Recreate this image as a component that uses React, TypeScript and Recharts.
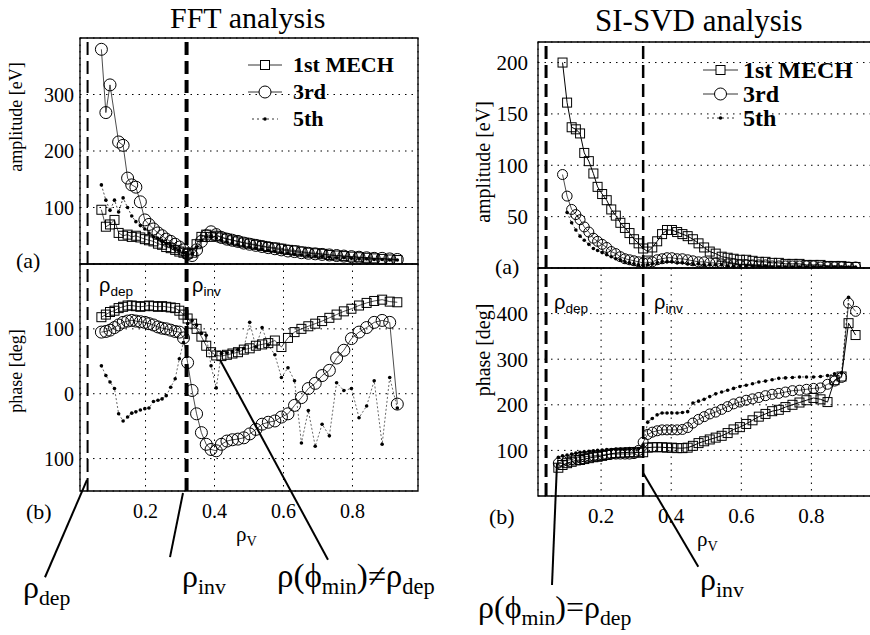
import React from 'react';
import { ScatterChart, Scatter, XAxis, YAxis, CartesianGrid, ReferenceLine, ReferenceArea } from 'recharts';

// radial channel positions (rho_V)
const rhoFFT = [0.072, 0.085, 0.097, 0.11, 0.122, 0.135, 0.148, 0.16, 0.172, 0.185, 0.198, 0.21, 0.223, 0.236, 0.248, 0.26, 0.273, 0.286, 0.298, 0.31, 0.322, 0.335, 0.348, 0.362, 0.376, 0.39, 0.405, 0.42, 0.436, 0.452, 0.468, 0.485, 0.502, 0.52, 0.538, 0.556, 0.575, 0.594, 0.613, 0.632, 0.652, 0.672, 0.692, 0.712, 0.733, 0.754, 0.775, 0.797, 0.819, 0.841, 0.863, 0.886, 0.908, 0.93];
const rhoSVD = [0.078, 0.09, 0.103, 0.116, 0.128, 0.14, 0.152, 0.165, 0.178, 0.19, 0.203, 0.216, 0.229, 0.242, 0.255, 0.268, 0.281, 0.294, 0.307, 0.32, 0.333, 0.346, 0.36, 0.374, 0.388, 0.402, 0.417, 0.432, 0.447, 0.462, 0.478, 0.494, 0.51, 0.527, 0.544, 0.561, 0.578, 0.596, 0.614, 0.632, 0.65, 0.669, 0.688, 0.707, 0.726, 0.746, 0.766, 0.786, 0.806, 0.826, 0.846, 0.866, 0.886, 0.906, 0.926];

// FFT amplitude [eV]
const fftAmp1st = [96, 66, 70, 78, 55, 50, 52, 48, 50, 47, 44, 42, 40, 36, 34, 30, 28, 25, 22, 20, 18, 20, 35, 48, 52, 48, 50, 47, 45, 42, 40, 38, 36, 34, 32, 30, 29, 27, 25, 24, 22, 20, 19, 18, 16, 15, 14, 13, 12, 11, 10, 9, 8, 7];
const fftAmp3rd = [380, 268, 317, null, 216, 210, 152, 140, 136, 110, 78, 70, 62, 55, 50, 44, 40, 35, 30, 25, 18, 15, 25, 40, 50, 57, 52, 47, 44, 42, 40, 37, 35, 33, 31, 29, 27, 25, 23, 22, 20, 19, 18, 17, 16, 15, 14, 13, 12, 11, 10, 10, 9, 8];
const fftAmp5th = [140, 113, 95, 113, 92, 117, 100, 85, 75, 68, 62, 55, 48, 45, 40, 36, 32, 28, 24, 20, 15, 18, 30, 42, 48, 50, 46, 42, 39, 37, 34, 32, 30, 28, 26, 24, 22, 20, 19, 17, 16, 15, 14, 13, 12, 11, 11, 10, 9, 9, 8, 8, 7, 7];

// FFT phase [deg]
const fftPh1st = [118, 122, 126, 128, 132, 134, 136, 136, 135, 134, 135, 136, 135, 134, 135, 134, 133, 132, 128, 122, 116, 108, 100, 88, 74, 64, 59, 58, 60, 62, 64, 68, 70, 74, 76, 78, 82, 72, 86, 95, 100, 104, 108, 112, 117, 122, 127, 131, 136, 140, 143, 145, 142, 141];
const fftPh3rd = [95, 96, 98, 102, 106, 110, 112, 113, 112, 111, 110, 108, 106, 103, 101, 100, 98, 96, 95, 86, 48, 5, -31, -60, -78, -86, -88, -78, -73, -71, -70, -68, -62, -55, -47, -44, -42, -36, -31, -18, -6, 8, 16, 28, 36, 55, 67, 85, 95, 102, 110, 113, 110, -16];
const fftPh5th = [43, 28, 18, 8, -31, -42, -36, -30, -28, -25, -23, -22, -12, -10, -8, -3, 10, 23, 54, 79, 108, 113, 106, 93, 90, 43, 9, 62, 63, 65, 68, 70, 110, 72, 102, 75, 60, 25, 40, 20, -76, -26, -81, -47, -65, 17, 5, 8, -37, -19, 20, -78, 25, -22];

// SI-SVD amplitude [eV]
const svdAmp1st = [null, 200, 161, 137, 135, 131, 112, 104, 92, 79, 72, 66, 57, 51, 44, 39, 34, 28, 24, 19, 16, 20, 26, 33, 37, 37, 35, 33, 31, 28, 24, 20, 16, 14, 11, 10, 9, 8, 8, 7, 6, 6, 5, 5, 4, 4, 4, 3, 3, 3, 2, 2, 2, 1, 1];
const svdAmp3rd = [null, 91, 70, 57, 52, 47, 40, 35, 29, 26, 23, 20, 16, 14, 11, 9, 8, 7, 6, 5, 5, 6, 8, 9, 10, 10, 9, 9, 8, 7, 6, 6, 5, 5, 4, 4, 4, 3, 3, 3, 3, 3, 2, 2, 2, 2, 2, 2, 2, 1, 1, 1, 1, 1, 1];
const svdAmp5th = [null, null, 54, 44, 37, 31, 27, 23, 19, 17, 15, 13, 11, 9, 8, 6, 5, 4, 3, 3, 3, 4, 5, 6, 6, 6, 5, 5, 4, 4, 4, 3, 3, 3, 3, 2, 2, 2, 2, 2, 2, 2, 1, 1, 1, 1, 1, 1, 1, 1, 1, 1, 1, 1, 1];

// SI-SVD phase [deg]
const svdPh1st = [62, 68, 72, 75, 78, 79, 81, 83, 85, 86, 88, 90, 93, 94, 95, 95, 96, 96, 95, 96, 106, 107, 107, 107, 106, 106, 105, 105, 106, 110, 116, 120, 124, 128, 132, 138, 146, 151, 158, 166, 174, 180, 186, 189, 195, 200, 205, 210, 215, 212, 206, 254, 262, 379, 353];
const svdPh3rd = [72, 76, 78, 80, 83, 85, 86, 87, 88, 89, 90, 91, 92, 92, 92, 92, 92, 93, 100, 118, 135, 140, 143, 145, 145, 145, 145, 146, 150, 160, 168, 174, 180, 184, 190, 196, 202, 206, 210, 213, 216, 220, 223, 225, 228, 231, 232, 234, 236, 237, 245, 252, 260, 423, 405];
const svdPh5th = [85, 88, 90, 92, 94, 96, 97, 98, 99, 100, 101, 102, 102, 103, 103, 103, 104, 104, 104, 112, 162, 170, 178, 182, 182, 182, 182, 183, 185, 204, 208, 212, 218, 224, 228, 232, 236, 240, 243, 246, 250, 252, 255, 258, 259, 260, 261, 261, 261, 262, 264, 268, 270, 436, null];

const xTicks = [0.2, 0.4, 0.6, 0.8];
const legendLabels = ['1st MECH', '3rd', '5th'];
const fftDep = 0.032;
const fftInv = 0.319;
const svdDep = 0.043;
const svdInv = 0.32;

const serif = 'Liberation Serif, Times New Roman, serif';
const sans = 'Liberation Sans, Arial, sans-serif';
const H = 635;

const toPoints = (rho: number[], vals: (number | null)[]) =>
  rho.map((r, i) => ({ rho: r, v: vals[i] })).filter((d) => d.v !== null && d.v !== undefined);

const square = (size: number) => (p: any) =>
  p.cx == null ? <g /> : <rect x={p.cx - size / 2} y={p.cy - size / 2} width={size} height={size} fill="none" stroke="#000" strokeWidth={1} />;
const ring = (r: number) => (p: any) =>
  p.cx == null ? <g /> : <circle cx={p.cx} cy={p.cy} r={r} fill="none" stroke="#000" strokeWidth={1} />;
const dot = (p: any) => (p.cx == null ? <g /> : <circle cx={p.cx} cy={p.cy} r={1.8} fill="#000" />);

type Pt = { rho: number; v: number };
type SeriesDef = { data: Pt[]; shape: any; dash?: string; lw: number };

function Panel(props: {
  left: number; width: number; margin: any; xDomain: number[]; yDomain: number[]; yTicks: number[];
  yFmt?: (v: number) => string; showX: boolean; xMargin?: number; yMargin: number; tickSize: number;
  series: SeriesDef[]; dashed: { x: number; w: number }[]; leaders?: { x: number; y: number }[][];
}) {
  const { xDomain, yDomain } = props;
  return (
    <div style={{ position: 'absolute', left: props.left, top: 0 }}>
      <ScatterChart width={props.width} height={H} margin={props.margin}>
        <CartesianGrid stroke="#000" strokeDasharray="1.5 5" strokeWidth={1} />
        <XAxis type="number" dataKey="rho" domain={xDomain} ticks={xTicks} allowDataOverflow
          height={props.showX ? 30 : 0} axisLine={false} tickLine={false} tickSize={0} tickMargin={props.xMargin}
          tickFormatter={(v: number) => v.toFixed(1)}
          tick={props.showX ? { fontSize: props.tickSize, fontFamily: serif, fill: '#000' } : false} />
        <YAxis type="number" dataKey="v" domain={yDomain} ticks={props.yTicks} allowDataOverflow width={50}
          axisLine={false} tickLine={false} tickSize={0} tickMargin={props.yMargin} tickFormatter={props.yFmt}
          tick={{ fontSize: props.tickSize, fontFamily: serif, fill: '#000' }} />
        <ReferenceArea x1={xDomain[0]} x2={xDomain[1]} y1={yDomain[0]} y2={yDomain[1]} fill="none" fillOpacity={0} stroke="#000" strokeWidth={1.3} />
        {props.dashed.map((d, i) => (
          <ReferenceLine key={'d' + i} x={d.x} stroke="#000" strokeWidth={d.w} strokeDasharray="13 6" />
        ))}
        {props.series.map((s, i) => (
          <Scatter key={i} data={s.data} fill="#000" shape={s.shape} isAnimationActive={false}
            line={{ stroke: '#000', strokeWidth: s.lw, strokeDasharray: s.dash }} />
        ))}
        {(props.leaders || []).map((seg, i) => (
          <ReferenceLine key={'l' + i} segment={seg} stroke="#000" strokeWidth={2} ifOverflow="visible" />
        ))}
      </ScatterChart>
    </div>
  );
}

function LegendBox({ left, top, rowH, sampleW, gap, fontSize, sq, rr }: any) {
  const icons = [
    (w: number) => <><line x1={0} x2={w} y1={8} y2={8} stroke="#000" strokeWidth={0.8} /><rect x={w / 2 - sq / 2} y={8 - sq / 2} width={sq} height={sq} fill="#fff" stroke="#000" /></>,
    (w: number) => <><line x1={0} x2={w} y1={8} y2={8} stroke="#000" strokeWidth={0.8} /><circle cx={w / 2} cy={8} r={rr} fill="#fff" stroke="#000" /></>,
    (w: number) => <><line x1={4} x2={w - 4} y1={8} y2={8} stroke="#000" strokeWidth={0.8} strokeDasharray="2 3" /><circle cx={w / 2} cy={8} r={1.8} fill="#000" /></>,
  ];
  return (
    <div style={{ position: 'absolute', left, top, fontFamily: serif, fontWeight: 'bold', fontSize }}>
      {legendLabels.map((lab, i) => (
        <div key={lab} style={{ display: 'flex', alignItems: 'center', height: rowH }}>
          <svg width={sampleW} height={16} style={{ overflow: 'visible' }}>{icons[i](sampleW)}</svg>
          <span style={{ marginLeft: gap, lineHeight: 1 }}>{lab}</span>
        </div>
      ))}
    </div>
  );
}

const Sub = ({ children }: any) => (
  <span style={{ fontSize: '0.68em', verticalAlign: '-0.32em' }}>{children}</span>
);

const Txt = ({ x, y, size, children, family = serif, style = {} }: any) => (
  <div style={{ position: 'absolute', left: x, top: y, fontSize: size, fontFamily: family, lineHeight: 1, whiteSpace: 'nowrap', color: '#000', ...style }}>
    {children}
  </div>
);

const VTxt = ({ cx, cy, size, children }: any) => (
  <div style={{ position: 'absolute', left: cx, top: cy, fontSize: size, fontFamily: serif, lineHeight: 1, whiteSpace: 'nowrap',
    transform: 'translate(-50%, -50%) rotate(-90deg)' }}>{children}</div>
);

export default function App() {
  const fftAmp: SeriesDef[] = [
    { data: toPoints(rhoFFT, fftAmp1st), shape: square(9), lw: 0.7 },
    { data: toPoints(rhoFFT, fftAmp3rd), shape: ring(6), lw: 0.7 },
    { data: toPoints(rhoFFT, fftAmp5th), shape: dot, lw: 0.7, dash: '2 2' },
  ];
  const fftPh: SeriesDef[] = [
    { data: toPoints(rhoFFT, fftPh1st), shape: square(9), lw: 0.7 },
    { data: toPoints(rhoFFT, fftPh3rd), shape: ring(6), lw: 0.7 },
    { data: toPoints(rhoFFT, fftPh5th), shape: dot, lw: 0.6, dash: '2 2' },
  ];
  const svdAmp: SeriesDef[] = [
    { data: toPoints(rhoSVD, svdAmp1st), shape: square(9), lw: 1 },
    { data: toPoints(rhoSVD, svdAmp3rd), shape: ring(5), lw: 0.7 },
    { data: toPoints(rhoSVD, svdAmp5th), shape: dot, lw: 0.7, dash: '2 2' },
  ];
  const svdPh: SeriesDef[] = [
    { data: toPoints(rhoSVD, svdPh1st), shape: square(9), lw: 1 },
    { data: toPoints(rhoSVD, svdPh3rd), shape: ring(5), lw: 0.7 },
    { data: toPoints(rhoSVD, svdPh5th), shape: dot, lw: 0.7, dash: '2 2' },
  ];

  return (
    <div style={{ position: 'absolute', left: 0, top: 0, width: 870, height: H, overflow: 'hidden', background: '#fff', fontFamily: serif }}>
      <Panel left={0} width={440} margin={{ top: 38, right: 22, bottom: 371, left: 30 }}
        xDomain={[0.01, 0.99]} yDomain={[0, 400]} yTicks={[100, 200, 300]} showX={false} yMargin={6} tickSize={20}
        series={fftAmp} dashed={[{ x: fftDep, w: 2 }, { x: fftInv, w: 4 }]} />
      <Panel left={0} width={440} margin={{ top: 264, right: 22, bottom: 114, left: 30 }}
        xDomain={[0.01, 0.99]} yDomain={[-150, 200]} yTicks={[-100, 0, 100]} yFmt={(v) => String(Math.abs(v))}
        showX xMargin={13} yMargin={6} tickSize={20}
        series={fftPh} dashed={[{ x: fftDep, w: 2 }, { x: fftInv, w: 4 }]}
        leaders={[
          [{ x: 0.0303, y: -133 }, { x: -0.0915, y: -283 }],
          [{ x: 0.3086, y: -153 }, { x: 0.271, y: -252 }],
          [{ x: 0.416, y: 52 }, { x: 0.729, y: -256 }],
        ]} />
      <Panel left={440} width={460} margin={{ top: 42, right: 22, bottom: 367, left: 48 }}
        xDomain={[0.02, 0.99]} yDomain={[0, 220]} yTicks={[50, 100, 150, 200]} showX={false} yMargin={10} tickSize={21}
        series={svdAmp} dashed={[{ x: svdDep, w: 3 }, { x: svdInv, w: 2.5 }]} />
      <Panel left={440} width={460} margin={{ top: 268, right: 22, bottom: 109, left: 48 }}
        xDomain={[0.02, 0.99]} yDomain={[0, 500]} yTicks={[100, 200, 300, 400]} showX xMargin={12} yMargin={10} tickSize={21}
        series={svdPh} dashed={[{ x: svdDep, w: 3 }, { x: svdInv, w: 2.5 }]}
        leaders={[
          [{ x: 0.0742, y: 72 }, { x: 0.06, y: -195 }],
          [{ x: 0.3204, y: 50 }, { x: 0.4773, y: -155 }],
        ]} />

      <LegendBox left={248} top={51} rowH={27} sampleW={34} gap={11} fontSize={22} sq={9} rr={6} />
      <LegendBox left={703} top={58} rowH={24} sampleW={35} gap={5} fontSize={24} sq={9} rr={6} />

      <Txt x={170} y={3} size={30}>FFT analysis</Txt>
      <Txt x={595} y={5} size={31}>SI-SVD analysis</Txt>

      <VTxt cx={16} cy={117} size={18}>amplitude [eV]</VTxt>
      <VTxt cx={16} cy={371} size={18}>phase [deg]</VTxt>
      <VTxt cx={483} cy={162} size={20}>amplitude [eV]</VTxt>
      <VTxt cx={483} cy={350} size={20}>phase [deg]</VTxt>

      <Txt x={16} y={250} size={22}>(a)</Txt>
      <Txt x={26} y={501} size={22}>(b)</Txt>
      <Txt x={495} y={256} size={22}>(a)</Txt>
      <Txt x={489} y={506} size={22}>(b)</Txt>

      <Txt x={236} y={524} size={21}>ρ<Sub>V</Sub></Txt>
      <Txt x={697} y={529} size={21}>ρ<Sub>V</Sub></Txt>

      <Txt x={99} y={275} size={20} family={sans}>ρ<Sub>dep</Sub></Txt>
      <Txt x={192} y={275} size={20} family={sans}>ρ<Sub>inv</Sub></Txt>
      <Txt x={554} y={292} size={20} family={sans}>ρ<Sub>dep</Sub></Txt>
      <Txt x={654} y={292} size={20} family={sans}>ρ<Sub>inv</Sub></Txt>

      <Txt x={23} y={571} size={32}>ρ<Sub>dep</Sub></Txt>
      <Txt x={182} y={560} size={32}>ρ<Sub>inv</Sub></Txt>
      <Txt x={277} y={560} size={33}>ρ(ϕ<Sub>min</Sub>)≠ρ<Sub>dep</Sub></Txt>
      <Txt x={700} y={563} size={32}>ρ<Sub>inv</Sub></Txt>
      <Txt x={478} y={591} size={32}>ρ(ϕ<Sub>min</Sub>)=ρ<Sub>dep</Sub></Txt>
    </div>
  );
}
